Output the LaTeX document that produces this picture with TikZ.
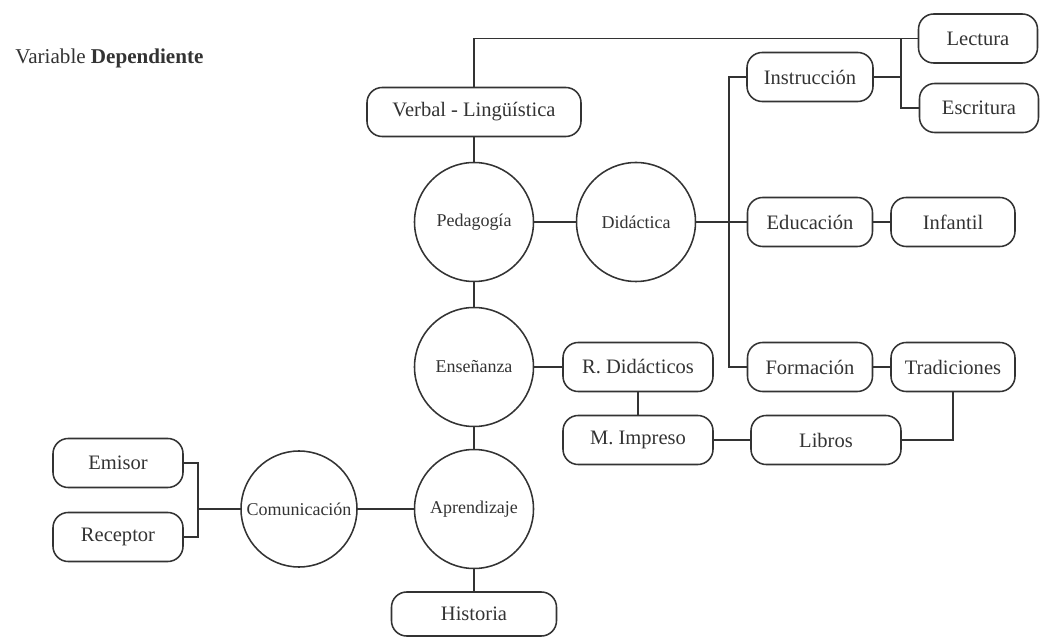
\documentclass[tikz,border=0pt]{standalone}
\usepackage{fontspec}
\setmainfont{Liberation Serif}
\usetikzlibrary{positioning}
\definecolor{ink}{HTML}{333333}

\begin{document}
\begin{tikzpicture}[line width=1.1pt, draw=ink, text=ink,
  box/.style={draw=ink, rounded corners=0.38cm, minimum height=1.225cm, inner sep=0pt, font=\fontsize{14.6}{16}\selectfont},
  circ/.style={draw=ink, circle, minimum size=2.975cm, inner sep=0pt, font=\fontsize{12.8}{14}\selectfont}]
\useasboundingbox (0,0) rectangle (26,15.925);

\node[anchor=west, font=\fontsize{15}{18}\selectfont] (title) at (0.25,14.475) {Variable \textbf{Dependiente}};

\node[box, minimum width=2.975cm] (lect) at (24.45,14.9625) {Lectura};
\node[box, minimum width=2.975cm] (escr) at (24.475,13.225) {Escritura};
\node[box, minimum width=3.15cm] (instr) at (20.25,14.0) {Instrucción};
\node[box, minimum width=5.35cm] (verbal) at (11.85,13.125) {Verbal - Lingüística};
\node[circ] (ped) at (11.85,10.375) {Pedagogía};
\node[circ] (did) at (15.9,10.375) {Didáctica};
\node[box, minimum width=3.125cm] (educ) at (20.25,10.375) {Educación};
\node[box, minimum width=3.1cm] (inf) at (23.825,10.375) {Infantil};
\node[circ] (ens) at (11.85,6.75) {Enseñanza};
\node[box, minimum width=3.75cm] (rdid) at (15.95,6.75) {R. Didácticos};
\node[box, minimum width=3.125cm] (form) at (20.25,6.75) {Formación};
\node[box, minimum width=3.1cm] (trad) at (23.825,6.75) {Tradiciones};
\node[box, minimum width=3.75cm] (mimp) at (15.95,4.925) {M. Impreso};
\node[box, minimum width=3.75cm] (lib) at (20.65,4.925) {Libros};
\node[circ] (apr) at (11.85,3.2) {Aprendizaje};
\node[circ, minimum size=2.9cm] (com) at (7.475,3.2) {Comunicación};
\node[box, minimum width=3.25cm] (emi) at (2.95,4.35) {Emisor};
\node[box, minimum width=3.25cm] (rec) at (2.95,2.5) {Receptor};
\node[box, minimum width=4.125cm, minimum height=1.1cm] (hist) at (11.85,0.575) {Historia};

\coordinate (jr) at (22.525,14.9625);
\coordinate (jl) at (18.225,10.375);
\coordinate (jb) at (4.95,3.2);

\draw (verbal) |- (lect);
\draw (jr) |- (escr);
\draw (instr) -- (instr -| jr);
\draw (instr) -| (jl) |- (form);
\draw (ped) -- (did);
\draw (did) -- (educ);
\draw (educ) -- (inf);
\draw (form) -- (trad);
\draw (verbal) -- (ped) -- (ens) -- (apr) -- (hist);
\draw (ens) -- (rdid);
\draw (rdid) -- (mimp);
\draw (mimp) -- (lib);
\draw (lib) -| (trad);
\draw (com) -- (apr);
\draw (emi) -| (jb) |- (rec);
\draw (jb) -- (com);
\end{tikzpicture}
\end{document}
